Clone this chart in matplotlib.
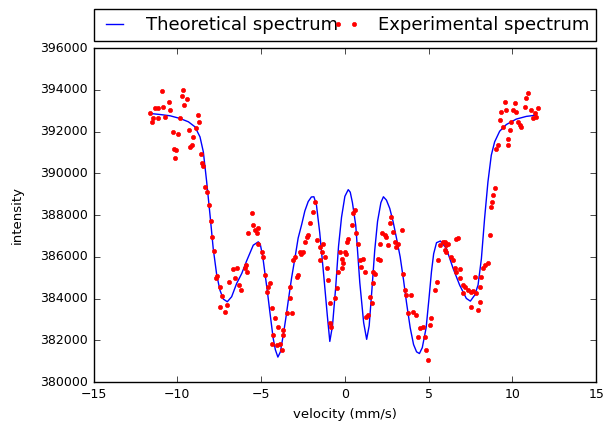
import matplotlib
matplotlib.use("Agg")
import matplotlib.pyplot as plt

# theoretical (fitted) spectrum
fit_v = [-11.63, -11.03, -10.44, -9.84, -9.34, -8.95, -8.65, -8.45, -8.25, -8.05,
         -7.86, -7.65, -7.46, -7.26, -7.02, -6.76, -6.46, -6.16, -5.87, -5.47,
         -5.17, -5.05, -4.90, -4.77, -4.62, -4.48, -4.28, -4.15, -4.00, -3.85,
         -3.68, -3.50, -3.38, -3.18, -2.98, -2.79, -2.58, -2.39, -2.19, -2.00,
         -1.85, -1.70, -1.50, -1.25, -1.05, -0.90, -0.74, -0.55, -0.38, -0.20,
         0.00, 0.20, 0.32, 0.45, 0.65, 0.89, 1.12, 1.30, 1.45, 1.62,
         1.78, 1.95, 2.15, 2.30, 2.48, 2.68, 2.88, 3.08, 3.30, 3.50,
         3.68, 3.90, 4.10, 4.28, 4.45, 4.62, 4.85, 5.02, 5.17, 5.30,
         5.47, 5.70, 6.06, 6.46, 6.85, 7.25, 7.49, 7.75, 7.95, 8.15,
         8.34, 8.54, 8.74, 8.94, 9.24, 9.64, 10.23, 10.83, 11.43]
fit_i = [392870, 392820, 392760, 392630, 392470, 392230, 391750, 391030, 389590, 388000,
         386400, 385130, 384410, 383980, 383850, 384090, 384730, 385200, 385800, 386560,
         386720, 386600, 386000, 385200, 384300, 383370, 382100, 381550, 381200, 381450,
         382250, 383200, 383900, 385000, 385950, 386900, 387550, 388200, 388650, 388870,
         388880, 388500, 387150, 385000, 383200, 381950, 382700, 384530, 386500, 387900,
         388900, 389220, 389100, 388600, 387500, 384770, 382850, 382050, 382700, 384500,
         386300, 387700, 388600, 388880, 388720, 388320, 387680, 386900, 386000, 384900,
         383800, 382600, 381800, 381450, 381370, 381650, 382600, 384000, 385300, 386150,
         386680, 386760, 386400, 385450, 384650, 384010, 383880, 384170, 384650, 385920,
         387840, 389590, 390870, 391510, 392020, 392340, 392600, 392730, 392790]

# measured spectrum
exp_v = [-10.93, -9.68, -9.74, -9.44, -9.58, -10.48, -11.63, -11.33, -11.14, -10.84,
         -10.44, -11.43, -11.14, -10.74, -11.53, -9.84, -8.75, -8.69, -8.89, -9.29,
         -9.05, -10.28, -9.94, -10.20, -10.08, -10.14, -9.14, -9.25, -8.61, -8.55,
         -8.45, -8.33, -8.25, -8.09, -8.01, -7.93, -7.81, -7.65, -7.70, -7.46,
         -7.32, -7.46, -7.16, -7.02, -6.90, -6.66, -6.43, -6.56, -6.31, -6.22,
         -5.97, -5.91, -5.86, -5.57, -5.47, -5.37, -5.17, -5.77, -5.27, -5.17,
         -4.97, -4.87, -4.77, -4.67, -4.48, -4.58, -4.37, -4.18, -3.98, -4.28,
         -3.68, -3.72, -4.37, -4.08, -3.88, -3.78, -3.28, -3.28, -3.48, -3.18,
         -2.98, -3.09, -2.79, -2.88, -2.69, -2.59, -2.49, -2.39, -2.29, -2.19,
         -2.09, -1.89, -1.79, -1.69, -1.49, -1.39, -1.30, -1.49, -1.20, -1.09,
         -1.00, -0.90, -0.90, -0.80, -0.60, -0.50, -0.40, -0.30, -0.20, 0.06,
         0.10, 0.19, 0.59, 0.49, 0.40, 0.69, 0.00, -0.10, -0.20, 0.79,
         0.89, 1.09, 0.99, 1.19, 1.68, 1.79, 1.68, 1.49, 1.59, 1.39,
         1.29, 1.98, 2.08, 2.08, 2.19, 2.38, 2.48, 2.58, 2.68, 2.78,
         2.88, 2.98, 3.08, 3.18, 3.38, 3.47, 3.57, 3.67, 3.97, 3.77,
         4.07, 4.27, 4.47, 4.37, 4.67, 4.77, 4.87, 4.96, 5.07, 5.17,
         5.36, 5.47, 5.56, 5.66, 5.96, 6.16, 5.86, 6.06, 5.96, 6.06,
         6.66, 6.75, 6.36, 6.46, 6.56, 6.85, 6.66, 6.85, 7.05, 7.15,
         7.05, 7.35, 7.55, 7.65, 7.75, 7.85, 8.05, 7.55, 7.95, 8.15,
         8.05, 8.24, 8.34, 8.54, 8.64, 8.74, 8.80, 8.84, 8.94, 9.04,
         9.14, 9.24, 9.34, 9.44, 9.54, 9.64, 9.74, 9.84, 9.74, 9.94,
         10.03, 10.13, 10.23, 10.33, 10.43, 10.53, 10.73, 10.83, 10.93, 11.13,
         11.23, 11.33, 11.43, 11.53]
exp_i = [393940, 394000, 393710, 393560, 393270, 393430, 392870, 393110, 393140, 393190,
         393060, 392630, 392660, 392710, 392470, 392630, 392790, 392470, 392180, 392070,
         391750, 391990, 391910, 391190, 391110, 390720, 391350, 391270, 390910, 390480,
         390360, 389360, 389120, 388480, 387710, 386960, 386270, 385090, 384990, 384560,
         384130, 383610, 383370, 383690, 384780, 385410, 385480, 384970, 384650, 384410,
         385480, 385600, 385280, 388080, 387520, 387280, 387360, 387120, 387120, 386640,
         386240, 386000, 385130, 384330, 384730, 384560, 383530, 383050, 382650, 382250,
         382490, 382250, 381850, 381770, 381850, 381530, 384560, 384010, 383290, 383290,
         386000, 385840, 385130, 385040, 386240, 386160, 386240, 386720, 386960, 387040,
         387600, 388160, 388640, 386800, 386480, 386240, 386640, 385840, 386000, 385450,
         384890, 383770, 382810, 382650, 384010, 384490, 385280, 386240, 385920, 386160,
         386720, 386880, 388240, 388080, 387520, 387120, 386240, 385690, 385450, 386640,
         385840, 385880, 385520, 385280, 385280, 385200, 384730, 384090, 383770, 383210,
         383130, 385920, 385840, 386640, 387120, 387040, 386960, 386560, 387600, 387920,
         387200, 386720, 386480, 386640, 387280, 385200, 384410, 384170, 384170, 383290,
         383370, 383210, 382570, 382170, 382650, 382170, 381530, 381050, 382730, 383050,
         384410, 384800, 385840, 386560, 386720, 386640, 386720, 386560, 386320, 386240,
         386880, 386910, 386000, 385840, 385450, 385410, 385280, 384970, 384650, 384560,
         384250, 384410, 384330, 384360, 385040, 384250, 383850, 383610, 383450, 385040,
         384560, 385450, 385600, 385690, 387040, 388400, 388640, 388960, 389280, 391190,
         391350, 392550, 392950, 392230, 393430, 393030, 391670, 392070, 391350, 392470,
         393030, 393350, 392950, 392470, 392310, 392230, 393190, 393590, 393830, 393030,
         392630, 392870, 392710, 393140]

plt.style.use("classic")
plt.rcParams["font.family"] = "DejaVu Sans"

fig = plt.figure(figsize=(6.04, 4.26), dpi=100, facecolor="white")
ax = fig.add_axes([0.155, 0.103, 0.832, 0.784])

ax.plot(fit_v, fit_i, "b-", lw=1, label="Theoretical spectrum")
ax.plot(exp_v, exp_i, "r.", ms=6, label="Experimental spectrum")

ax.set_xlim(-15, 15)
ax.set_ylim(380000, 396000)
ax.set_yticks(range(380000, 396001, 2000))
ax.ticklabel_format(useOffset=False, style="plain")
ax.tick_params(labelsize=9)
ax.set_xlabel("velocity (mm/s)", fontsize=9.5)
ax.set_ylabel("intensity", fontsize=9.5, labelpad=12)

ax.legend(bbox_to_anchor=(0., 1.02, 1., .102), loc=3, ncol=2, mode="expand",
          borderaxespad=0., numpoints=2, fontsize=13, handlelength=1.5,
          handletextpad=1.0)

fig.savefig("out.png", dpi=100, facecolor="white")
